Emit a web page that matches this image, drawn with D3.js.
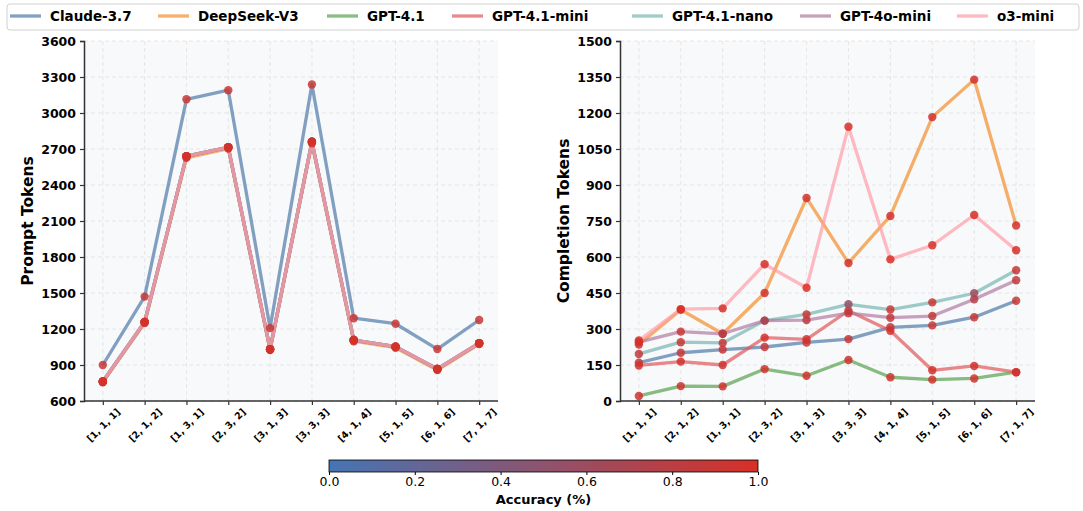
<!DOCTYPE html>
<html><head><meta charset="utf-8">
<script src="https://cdn.jsdelivr.net/npm/d3@7"></script>
<style>
body{margin:0;background:#fff;}
text{font-family:"DejaVu Sans",sans-serif;}
</style></head>
<body><svg id="c" width="1083" height="511"></svg>
<script>
const configs = ["[1, 1, 1]","[2, 1, 2]","[1, 3, 1]","[2, 3, 2]","[3, 1, 3]","[3, 3, 3]","[4, 1, 4]","[5, 1, 5]","[6, 1, 6]","[7, 1, 7]"];
const models = ["Claude-3.7","DeepSeek-V3","GPT-4.1","GPT-4.1-mini","GPT-4.1-nano","GPT-4o-mini","o3-mini"];
const colors = ["#4e79a7","#f28e2b","#59a14f","#e15759","#76b7b2","#b07aa1","#ff9da7"];

// Prompt tokens per model
const promptClaude  = [900,1470,3114,3190,1208,3238,1290,1244,1033,1275];
const promptDeepSeek= [755,1250,2626,2704,1024,2748,1098,1044,858,1074];
const promptGpt41   = [762,1258,2640,2714,1031,2760,1108,1053,867,1081];
const promptGpt41mini=[762,1258,2640,2714,1031,2760,1108,1053,867,1081];
const promptGpt41nano=[762,1258,2640,2714,1031,2760,1108,1053,867,1081];
const promptGpt4omini=[762,1258,2640,2714,1031,2760,1108,1053,867,1081];
const promptO3mini  = [762,1258,2640,2714,1031,2760,1108,1053,867,1081];

// Completion tokens per model
const compClaude   = [160,201,214,225,244,258,307,315,349,418];
const compDeepSeek = [235,380,280,450,846,575,771,1183,1339,731];
const compGpt41    = [21,62,61,133,105,171,99,89,94,120];
const compGpt41mini= [148,164,150,264,257,376,293,128,146,120];
const compGpt41nano= [196,245,242,335,361,403,381,411,449,545];
const compGpt4omini= [245,289,280,335,337,366,347,354,424,503];
const compO3mini   = [252,383,386,570,472,1143,590,649,775,628];

// Accuracy per model (0..1)
const accClaude   = [0.9,0.9,0.9,0.9,0.9,0.9,0.9,0.9,0.9,0.9];
const accDeepSeek = [0.95,0.95,0.95,0.95,0.95,0.95,0.95,0.95,0.95,0.95];
const accGpt41    = [0.95,0.95,0.95,0.95,0.95,0.95,0.95,0.95,0.95,0.95];
const accGpt41mini= [0.95,0.95,0.95,0.95,0.95,0.95,0.95,0.95,0.95,0.95];
const accGpt41nano= [0.85,0.9,0.9,0.9,0.9,0.55,0.9,0.9,0.6,0.9];
const accGpt4omini= [0.95,0.9,0.75,0.65,0.85,0.85,0.85,0.85,0.75,0.85];
const accO3mini   = [1,1,1,1,1,1,1,1,1,1];

const promptTicks = [600,900,1200,1500,1800,2100,2400,2700,3000,3300,3600];
const compTicks = [0,150,300,450,600,750,900,1050,1200,1350,1500];
const cbTicks = [0,0.2,0.4,0.6,0.8,1.0];

const prompt = [promptClaude,promptDeepSeek,promptGpt41,promptGpt41mini,promptGpt41nano,promptGpt4omini,promptO3mini];
const comp = [compClaude,compDeepSeek,compGpt41,compGpt41mini,compGpt41nano,compGpt4omini,compO3mini];
const acc = [accClaude,accDeepSeek,accGpt41,accGpt41mini,accGpt41nano,accGpt4omini,accO3mini];

const cmap = d3.interpolateRgb("#4575b4","#d73027");
const svg = d3.select("#c");

function panel(x0,x1,yDomain,ticks,data,label){
  const top=41,bot=401;
  const x = d3.scalePoint().domain(configs).range([x0,x1]).padding(0.45);
  const y = d3.scaleLinear().domain(yDomain).range([bot,top]);
  const g = svg.append("g");
  g.append("rect").attr("x",x0).attr("y",top).attr("width",x1-x0).attr("height",bot-top).attr("fill","#f8f9fb");
  // grid
  g.append("g").selectAll("line").data(ticks).join("line")
    .attr("x1",x0).attr("x2",x1).attr("y1",d=>y(d)).attr("y2",d=>y(d))
    .attr("stroke","#dcdcdc").attr("stroke-width",0.8).attr("stroke-dasharray","4,3").attr("opacity",0.8);
  g.append("g").selectAll("line").data(configs).join("line")
    .attr("x1",d=>x(d)).attr("x2",d=>x(d)).attr("y1",top).attr("y2",bot)
    .attr("stroke","#dcdcdc").attr("stroke-width",0.8).attr("stroke-dasharray","4,3").attr("opacity",0.8);
  // lines
  const line = d3.line().x((d,i)=>x(configs[i])).y(d=>y(d));
  data.forEach((s,k)=>{
    g.append("path").datum(s).attr("d",line).attr("fill","none")
      .attr("stroke",colors[k]).attr("stroke-width",3.3).attr("stroke-opacity",0.7)
      .attr("stroke-linejoin","round");
  });
  data.forEach((s,k)=>{
    g.append("g").selectAll("circle").data(s).join("circle")
      .attr("cx",(d,i)=>x(configs[i])).attr("cy",d=>y(d)).attr("r",4.2)
      .attr("fill",(d,i)=>cmap(acc[k][i])).attr("fill-opacity",0.85);
  });
  // axes
  const ya = g.append("g").attr("transform",`translate(${x0},0)`)
    .call(d3.axisLeft(y).tickValues(ticks).tickSize(4).tickPadding(4).tickFormat(d3.format("d")));
  ya.select(".domain").attr("stroke","#333").attr("stroke-width",1.5);
  ya.selectAll(".tick line").attr("stroke","#333").attr("stroke-width",1.2);
  ya.selectAll(".tick text").attr("font-size","12.5px").attr("font-weight","bold").attr("fill","#000")
    .style("font-family","DejaVu Sans");
  const xa = g.append("g").attr("transform",`translate(0,${bot})`)
    .call(d3.axisBottom(x).tickSize(4).tickSizeOuter(0));
  xa.select(".domain").attr("stroke","#333").attr("stroke-width",1.5).attr("d",`M${x0},0H${x1}`);
  xa.selectAll(".tick line").attr("stroke","#333").attr("stroke-width",1.2);
  xa.selectAll(".tick text").attr("font-size","9.5px").attr("font-weight","bold").attr("fill","#000")
    .style("font-family","DejaVu Sans")
    .attr("text-anchor","middle").attr("dy",null).attr("y",null)
    .attr("dominant-baseline","central")
    .attr("transform","translate(0,24) rotate(-45)");
  g.append("text").attr("transform",`translate(${x0-56},${(top+bot)/2}) rotate(-90)`)
    .attr("text-anchor","middle").attr("dominant-baseline","central")
    .attr("font-size","15.5px").attr("font-weight","bold").text(label);
}

panel(84,498,[600,3600],promptTicks,prompt,"Prompt Tokens");
panel(620,1035,[0,1500],compTicks,comp,"Completion Tokens");

// legend
const legendX = [10,158,327,452,632,800,957];
const lg = svg.append("g");
lg.append("rect").attr("x",7).attr("y",4).attr("width",1072).attr("height",26)
  .attr("rx",3).attr("fill","#fff").attr("fill-opacity",0.8).attr("stroke","#d0d0d0").attr("stroke-width",1);
models.forEach((m,k)=>{
  const lx = legendX[k];
  lg.append("line").attr("x1",lx).attr("x2",lx+31).attr("y1",16).attr("y2",16)
    .attr("stroke",colors[k]).attr("stroke-width",3.3).attr("stroke-opacity",0.7);
  lg.append("text").attr("x",lx+40).attr("y",16).attr("dominant-baseline","central")
    .attr("font-size","13.5px").attr("font-weight","bold").text(m);
});

// colorbar
const cbx0=329, cbx1=758, cby=460, cbh=12;
const defs = svg.append("defs");
const grad = defs.append("linearGradient").attr("id","cbg");
d3.range(0,1.0001,0.1).forEach(t=>grad.append("stop").attr("offset",t).attr("stop-color",cmap(t)));
svg.append("rect").attr("x",cbx0).attr("y",cby).attr("width",cbx1-cbx0).attr("height",cbh)
  .attr("fill","url(#cbg)").attr("stroke","#000").attr("stroke-width",0.8);
const cbs = d3.scaleLinear().domain([0,1]).range([cbx0,cbx1]);
const cba = svg.append("g").attr("transform",`translate(0,${cby+cbh})`)
  .call(d3.axisBottom(cbs).tickValues(cbTicks).tickSize(3).tickPadding(2).tickFormat(d3.format(".1f")));
cba.select(".domain").remove();
cba.selectAll(".tick text").attr("font-size","12.5px").attr("fill","#000").style("font-family","DejaVu Sans");
cba.selectAll(".tick line").attr("stroke","#000");
svg.append("text").attr("x",(cbx0+cbx1)/2).attr("y",499).attr("text-anchor","middle")
  .attr("dominant-baseline","central").attr("font-size","13px").attr("font-weight","bold").text("Accuracy (%)");
</script></body></html>
